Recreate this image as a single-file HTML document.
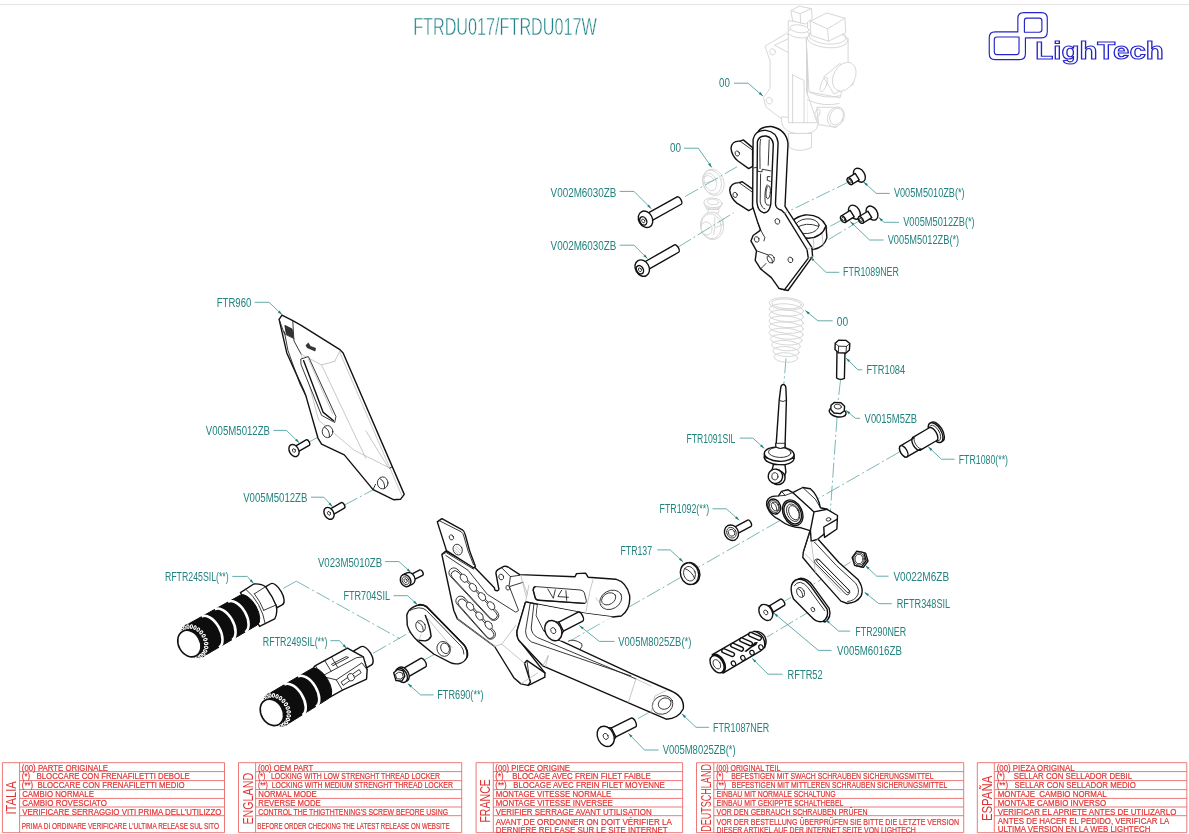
<!DOCTYPE html>
<html><head><meta charset="utf-8">
<style>
html,body{margin:0;padding:0;background:#fff;}
body{width:1189px;height:834px;overflow:hidden;font-family:"Liberation Sans",sans-serif;}
svg{display:block;position:absolute;left:0;top:0;will-change:transform;}
svg *{vector-effect:non-scaling-stroke;}
.k{fill:none;stroke:#222;stroke-width:.9;stroke-linejoin:round;stroke-linecap:round;}
.kw{fill:#fff;stroke:#222;stroke-width:.9;stroke-linejoin:round;stroke-linecap:round;}
.kb{fill:none;stroke:#111;stroke-width:1.4;stroke-linejoin:round;stroke-linecap:round;}
.kbw{fill:#fff;stroke:#111;stroke-width:1.4;stroke-linejoin:round;stroke-linecap:round;}
.t{fill:none;stroke:#b0b0b0;stroke-width:.7;stroke-linejoin:round;stroke-linecap:round;}
.g{fill:none;stroke:#d2d2d2;stroke-width:.9;stroke-linejoin:round;stroke-linecap:round;}
.gw{fill:#fff;stroke:#d2d2d2;stroke-width:.9;stroke-linejoin:round;stroke-linecap:round;}
.l{fill:none;stroke:#3f9696;stroke-width:.8;stroke-linejoin:miter;stroke-linecap:butt;}
.c{fill:none;stroke:#5aa5a5;stroke-width:.8;stroke-dasharray:15 3 2 3;}
.a{fill:#1f7f7f;stroke:none;}
.lab{font-family:"Liberation Sans",sans-serif;fill:#22837f;font-size:13.7px;}
.r{fill:none;stroke:#ec6a6a;stroke-width:.9;}
.rt{font-family:"Liberation Sans",sans-serif;fill:#e03434;font-size:9.9px;stroke:#e03434;stroke-width:.22;}
.rv{font-family:"Liberation Sans",sans-serif;fill:#e03434;font-size:14.4px;}
.b{fill:none;stroke:#2424cc;stroke-width:1.15;stroke-linejoin:round;}
</style></head><body>
<svg width="1189" height="834" viewBox="0 0 1189 834">
<rect x="0" y="0" width="1189" height="834" fill="#fff"/>
<line x1="0" y1="4.5" x2="1189" y2="4.5" stroke="#e4e4e4" stroke-width="1"/>
<!-- title -->
<text x="413.2" y="34.9" font-family="Liberation Sans, sans-serif" font-size="24.2" textLength="183.6" lengthAdjust="spacingAndGlyphs" fill="#1f848a" stroke="#fff" stroke-width=".5">FTRDU017/FTRDU017W</text>
<!-- logo -->
<g transform="translate(980,5) scale(0.16821)">
<path class="b" d="M225,160 L90,160 Q55,160 55,195 L55,290 Q55,325 90,325 L235,325 Q270,325 270,290 L270,195 L365,195 Q400,195 400,160 L400,80 Q400,45 365,45 L260,45 Q225,45 225,80 Z"/>
<path class="b" d="M100,190 L232,190 L232,280 Q232,295 217,295 L100,295 Q85,295 85,280 L85,205 Q85,190 100,190 Z"/>
<path class="b" d="M278,78 L352,78 Q368,78 368,94 L368,146 Q368,162 352,162 L264,162 L264,92 Q264,78 278,78 Z"/>
</g>
<text x="1035.3" y="58.9" font-family="Liberation Sans, sans-serif" font-weight="bold" font-size="24" textLength="128.5" lengthAdjust="spacingAndGlyphs" fill="#fff" stroke="#2424cc" stroke-width="1.1">LighTech</text>
<!-- master -->
<path class="gw" d="M 765.3,46.0 L 786.4,33.5 L 791.2,37.4 L 791.2,122.7 L 781.6,118.8 L 766.3,107.3 L 763.4,97.8 L 770.1,88.2 L 770.1,61.3 Z"/>
<ellipse class="g" cx="772.6" cy="51.8" rx="2.68" ry="3.26" transform="rotate(-20 772.6 51.8)"/>
<ellipse class="g" cx="769.2" cy="100.6" rx="2.88" ry="3.45" transform="rotate(-20 769.2 100.6)"/>
<path class="g" d="M 774.9,45.0 L 791.2,37.4 L 789.3,52.7 Z"/>
<path class="gw" d="M 781.6,122.7 Q 782.6,132.3 799.8,134.2 Q 817.1,134.2 818.0,124.6 L 818.0,118.8 L 781.6,116.9 Z"/>
<path class="gw" d="M 788.3,133.8 L 789.3,147.6 Q 799.8,153.3 811.3,147.6 L 811.7,133.8 Z"/>
<path class="gw" d="M 817.1,107.3 L 834.3,107.3 L 836.3,127.5 L 819.0,124.6 Z"/>
<ellipse class="gw" cx="835.9" cy="116.9" rx="8.05" ry="10.35" transform="rotate(25 835.9 116.9)"/>
<ellipse class="g" cx="836.6" cy="116.5" rx="6.52" ry="8.63" transform="rotate(25 836.6 116.5)"/>
<ellipse class="g" cx="817.5" cy="113.1" rx="2.30" ry="4.22" transform="rotate(20 817.5 113.1)"/>
<path class="gw" d="M 788.3,21.1 L 788.3,122.7 L 807.5,122.7 L 807.5,23.0 Z"/>
<path class="g" d="M 792.6,74.8 L 804.1,80.5 L 804.1,122.7 M 792.6,74.8 L 792.6,122.7"/>
<ellipse class="gw" cx="798.9" cy="33.5" rx="11.12" ry="4.22" transform="rotate(8 798.9 33.5)"/>
<ellipse class="gw" cx="799.5" cy="28.8" rx="9.58" ry="3.83" transform="rotate(8 799.5 28.8)"/>
<path class="gw" d="M 791.2,10.5 L 798.9,6.1 L 811.3,8.6 L 812.3,18.2 L 805.6,24.0 L 793.1,21.1 Z"/>
<path class="g" d="M 791.2,10.5 L 800.2,13.8 L 811.3,8.6 M 800.2,13.8 L 800.8,23.4"/>
<path class="gw" d="M 806.5,38.3 L 806.5,92.0 L 809.4,99.7 L 817.1,122.7 L 807.5,122.7 M 806.5,38.3 L 848.1,38.3 L 848.1,63.3 L 840.1,97.8 L 809.4,92.0 Z"/>
<path class="g" d="M 809.4,92.0 Q 824.8,99.7 840.1,95.8 M 807.5,99.7 Q 822.8,107.3 839.1,103.5"/>
<ellipse class="gw" cx="827.6" cy="39.3" rx="20.32" ry="8.43" transform="rotate(5 827.6 39.3)"/>
<ellipse class="g" cx="827.6" cy="36.4" rx="18.78" ry="7.67" transform="rotate(5 827.6 36.4)"/>
<path class="gw" d="M 810.4,21.1 L 826.7,13.0 L 844.9,18.2 L 845.8,32.6 L 828.6,41.2 L 811.3,35.5 Z"/>
<path class="g" d="M 810.4,21.1 L 827.6,28.8 L 844.9,18.2 M 827.6,28.8 L 828.6,41.2"/>
<path class="gw" d="M 823.8,76.7 L 840.1,63.3 L 853.5,84.3 L 834.3,93.9 Z"/>
<ellipse class="gw" cx="844.3" cy="76.7" rx="10.73" ry="15.33" transform="rotate(28 844.3 76.7)"/>
<ellipse class="g" cx="823.8" cy="84.3" rx="2.68" ry="7.67" transform="rotate(20 823.8 84.3)"/>
<ellipse class="gw" cx="713.5" cy="182.3" rx="10.47" ry="13.44" transform="rotate(-18 713.5 182.3)"/>
<ellipse class="g" cx="712.1" cy="182.1" rx="9.11" ry="12.30" transform="rotate(-18 712.1 182.1)"/>
<ellipse class="gw" cx="710.3" cy="181.9" rx="5.92" ry="9.11" transform="rotate(-18 710.3 181.9)"/>
<path class="g" d="M 704.9,176.6 Q 709.5,173.2 713.5,179.5 M 703.2,183.5 L 713.5,180.6"/>
<path class="gw" d="M 704.1,202.8 Q 703.8,208.5 712.9,209.7 Q 721.7,209.4 722.0,203.4 Z"/>
<ellipse class="gw" cx="713.0" cy="202.8" rx="9.11" ry="4.78" transform="rotate(5 713.0 202.8)"/>
<ellipse class="g" cx="713.0" cy="201.9" rx="5.69" ry="2.85" transform="rotate(5 713.0 201.9)"/>
<path class="g" d="M 706.1,206.8 L 706.4,209.1 M 708.3,207.6 L 708.6,209.9 M 710.6,208.1 L 710.7,210.3 M 712.9,208.3 L 713.0,210.6 M 715.2,208.1 L 715.3,210.3 M 717.4,207.6 L 717.6,209.7 M 719.7,206.5 L 719.8,208.5"/>
<path class="gw" d="M 707.8,209.7 L 708.3,213.1 L 718.6,213.1 L 718.9,209.7 Z"/>
<ellipse class="gw" cx="712.1" cy="225.8" rx="11.61" ry="13.89" transform="rotate(-10 712.1 225.8)"/>
<ellipse class="g" cx="711.2" cy="226.2" rx="10.02" ry="12.52" transform="rotate(-10 711.2 226.2)"/>
<ellipse class="gw" cx="706.6" cy="228.4" rx="5.47" ry="6.60" transform="rotate(-15 706.6 228.4)"/>
<path class="g" d="M 714.8,217.1 L 714.8,227.9 L 723.1,224.5 L 723.1,218.8 M 714.8,227.9 L 713.5,234.7"/>
<!-- center -->
<path class="c" d="M685,196.6 L737,166.8 M752,156.7 L771.4,145.9"/>
<path class="c" d="M678.2,247.1 L733.6,212.8"/>
<path class="c" d="M850.5,181.1 L789.8,210.7"/>
<path class="c" d="M843.5,219 L820,232 M861.1,219.8 L824.4,242.1"/>
<path class="c" d="M786,358.4 L783.7,385.7"/>
<path class="c" d="M840.5,380 L838,402 M837.1,416.8 L829.9,517.5"/>
<path class="c" d="M899.4,452 L570.5,640.6"/>
<path class="c" d="M850.6,562.2 L785.2,600.8"/>
<path class="c" d="M812.9,609.5 L767,637"/>
<path class="c" d="M283.2,588.4 L296.4,581.2" stroke-dasharray="none"/>
<path class="c" d="M296.4,581.2 L400,638.8"/>
<path class="c" d="M373.1,653.3 L416.3,628.5"/>
<path class="c" d="M422.8,660.8 L443.7,648.9"/>
<path class="c" d="M309.4,441.9 L322.4,434.7"/>
<path class="c" d="M344,505.3 L372.8,490"/>
<path class="c" d="M651,711.2 L633.4,721.2"/>
<!-- bracket -->
<path class="kbw" d="M 790.8,227.9 Q 789.8,218.2 804.9,215.0 Q 820.0,213.9 826.0,225.8 L 826.9,237.6 Q 824.3,247.3 813.5,249.5 Q 800.5,249.5 794.1,240.9 Z"/>
<path class="kb" d="M 790.8,227.9 Q 794.1,237.6 808.1,238.3 Q 822.1,237.6 826.0,225.8"/>
<ellipse class="kw" cx="807.0" cy="226.2" rx="12.09" ry="7.34" transform="rotate(-5 807.0 226.2)"/>
<path class="k" d="M 796.2,227.9 Q 805.9,221.4 818.2,226.2"/>
<path class="t" d="M 813.5,238.3 L 813.9,249.5 M 822.1,234.4 L 823.2,246.3"/>
<path class="kbw" d="M 757.4,133.0 Q 760.6,126.0 771.4,126.5 Q 786.5,129.7 788.0,143.7 L 785.0,206.3 L 788.0,211.1 L 811.8,247.3 L 812.6,256.4 L 788.0,290.5 L 784.4,289.7 L 779.0,288.4 L 753.1,206.3 Z"/>
<path class="kbw" d="M 752.6,147.6 L 743.3,139.9 L 740.1,141.2 Q 731.9,140.5 731.0,148.1 Q 731.5,155.6 738.0,161.0 L 748.7,168.6 L 752.6,166.4 Z"/>
<path class="k" d="M 740.1,141.2 L 752.6,150.2"/>
<ellipse class="kw" cx="737.3" cy="153.5" rx="2.16" ry="2.59" transform="rotate(-20 737.3 153.5)"/>
<path class="kbw" d="M 752.6,189.1 L 742.3,181.7 L 739.0,182.6 Q 730.6,182.6 729.7,190.1 Q 730.4,197.7 736.9,203.1 L 748.7,210.7 L 752.6,208.5 Z"/>
<path class="k" d="M 739.0,182.6 L 752.6,192.3"/>
<ellipse class="kw" cx="735.1" cy="194.9" rx="2.16" ry="2.59" transform="rotate(-20 735.1 194.9)"/>
<path class="kbw" d="M 752.6,206.3 L 753.1,139.4 Q 755.2,129.7 766.0,130.4 Q 776.8,131.9 778.1,142.7 L 775.5,203.1 Q 775.1,208.5 781.6,210.2 L 784.6,213.2 L 807.0,249.5 L 808.3,258.1 L 784.6,289.7 L 779.0,288.4 L 771.4,277.6 L 760.6,268.9 L 755.2,260.3 L 756.5,250.8 L 750.9,240.9 L 753.1,235.5 L 760.6,230.1 L 757.4,221.4 Z"/>
<path class="kbw" d="M 756.9,202.0 L 757.4,141.6 Q 759.1,135.5 766.0,136.0 Q 772.5,137.3 773.3,144.2 L 770.8,204.2 Q 769.2,213.2 763.9,212.8 Q 757.8,211.7 756.9,202.0 Z"/>
<path class="k" d="M 760.6,139.4 Q 759.5,141.6 760.0,163.2 L 760.0,168.6 M 769.2,139.9 L 768.2,165.3 M 754.1,167.9 L 757.4,167.1 L 757.8,171.4 L 762.1,171.8 L 762.1,169.2 L 770.8,170.9 M 769.9,176.6 L 767.3,176.6 L 767.3,180.4 L 770.3,181.3 M 760.6,174.0 L 760.2,202.0 Q 761.7,208.5 764.9,208.9 M 767.1,184.8 Q 764.3,189.1 765.1,202.0 Q 766.4,206.3 769.2,205.3"/>
<ellipse class="k" cx="768.2" cy="192.3" rx="2.16" ry="6.48" transform="rotate(5 768.2 192.3)"/>
<path class="k" d="M 760.6,230.1 L 764.9,237.6 L 763.9,240.9 M 756.5,250.8 L 768.2,254.9 M 760.6,268.9 L 766.0,263.5"/>
<ellipse class="kw" cx="777.4" cy="221.4" rx="2.37" ry="2.81" transform="rotate(-20 777.4 221.4)"/>
<ellipse class="kw" cx="756.7" cy="239.4" rx="2.37" ry="2.81" transform="rotate(-20 756.7 239.4)"/>
<ellipse class="kw" cx="770.8" cy="258.8" rx="3.45" ry="4.32" transform="rotate(-20 770.8 258.8)"/>
<path class="k" d="M 768.2,256.0 Q 772.9,258.1 772.5,262.9"/>
<ellipse class="kw" cx="790.4" cy="259.9" rx="2.37" ry="2.81" transform="rotate(-20 790.4 259.9)"/>
<path class="t" d="M 784.6,213.2 L 788.0,211.1 M 807.0,249.5 L 811.8,247.3 M 808.3,258.1 L 812.6,256.4"/>
<!-- spring -->
<ellipse class="g" cx="786.4" cy="303.9" rx="17.25" ry="6.23" transform="rotate(4 786.4 303.9)"/>
<ellipse class="g" cx="786.4" cy="309.9" rx="17.25" ry="6.07" transform="rotate(4 786.4 309.9)"/>
<ellipse class="g" cx="786.3" cy="315.8" rx="17.25" ry="5.91" transform="rotate(4 786.3 315.8)"/>
<ellipse class="g" cx="786.2" cy="321.8" rx="17.25" ry="5.75" transform="rotate(4 786.2 321.8)"/>
<ellipse class="g" cx="786.2" cy="327.7" rx="17.25" ry="5.59" transform="rotate(4 786.2 327.7)"/>
<ellipse class="g" cx="786.1" cy="333.7" rx="17.18" ry="5.43" transform="rotate(4 786.1 333.7)"/>
<ellipse class="g" cx="786.1" cy="339.7" rx="15.85" ry="5.27" transform="rotate(4 786.1 339.7)"/>
<ellipse class="g" cx="786.0" cy="345.6" rx="14.52" ry="5.11" transform="rotate(4 786.0 345.6)"/>
<ellipse class="g" cx="786.0" cy="351.6" rx="13.19" ry="4.95" transform="rotate(4 786.0 351.6)"/>
<ellipse class="g" cx="785.9" cy="357.5" rx="11.86" ry="4.79" transform="rotate(4 785.9 357.5)"/>
<ellipse class="g" cx="786.4" cy="303.9" rx="14.85" ry="4.79" transform="rotate(4 786.4 303.9)"/>
<path class="kbw" d="M 780.7,388.2 Q 780.7,384.9 783.3,384.4 Q 785.9,384.9 785.9,388.2 L 786.4,400.2 L 785.0,448.1 L 775.9,448.1 L 779.2,400.2 Z"/>
<path class="k" d="M 779.7,400.7 Q 783.1,402.6 786.4,400.4"/>
<ellipse class="kbw" cx="779.2" cy="457.7" rx="14.85" ry="7.19" transform="rotate(3 779.2 457.7)"/>
<path class="kbw" d="M 764.4,453.8 L 764.4,457.7 L 794.1,458.4 L 794.1,454.8 Z"/>
<ellipse class="kbw" cx="779.2" cy="454.1" rx="14.85" ry="7.19" transform="rotate(3 779.2 454.1)"/>
<ellipse class="k" cx="779.7" cy="452.4" rx="11.26" ry="5.03" transform="rotate(3 779.7 452.4)"/>
<path class="kw" d="M 775.9,446.9 Q 780.2,450.0 785.0,447.1 L 785.0,443.3 L 775.9,443.3 Z"/>
<path class="k" d="M 775.9,443.3 L 775.9,447.1 Q 780.2,450.0 785.0,447.1 L 785.0,443.3"/>
<path class="kbw" d="M 773.5,464.4 L 772.0,470.1 L 783.5,479.2 L 785.9,472.0 L 785.0,464.9 Z"/>
<ellipse class="kbw" cx="777.3" cy="477.3" rx="7.90" ry="7.19" transform="rotate(20 777.3 477.3)"/>
<ellipse class="kbw" cx="775.4" cy="476.3" rx="7.19" ry="7.19" transform="rotate(10 775.4 476.3)"/>
<ellipse class="kw" cx="774.9" cy="476.3" rx="3.11" ry="3.59" transform="rotate(10 774.9 476.3)"/>
<!-- heel -->
<g transform="translate(270,305) scale(0.23975)">
<path class="kbw" d="M38,60 L50,42 L95,65 L130,85 L290,185 L305,200 L560,790 L545,810 L515,812 L430,770 L310,625 L215,580 L200,555 L150,380 L140,355 L70,200 Z"/>
<path class="k" d="M95,68 L100,150 L130,205 M60,112 L75,190 L125,330 L150,380"/><path class="t" d="M130,205 L215,250 L270,235"/>
<path class="t" d="M290,195 L500,680 L550,795 M215,250 L400,640 M130,205 L200,470 L205,482 L350,605 L500,680 M400,525 L495,680 M270,235 L290,195"/>
<path class="k" d="M500,680 L508,676 M430,770 L440,748"/>
<path class="kw" d="M130,225 L160,215 L275,465 L270,490 L215,460 L130,250 Z"/>
<path class="kb" d="M140,232 L222,448 L264,482"/>
<path class="t" d="M160,225 L262,455"/>
<ellipse class="kw" cx="240" cy="528" rx="22" ry="25"/>
<path class="k" d="M228,510 Q250,520 248,550"/>
<ellipse class="kw" cx="470" cy="742" rx="22" ry="25"/>
<path class="k" d="M458,724 Q480,734 478,764"/>
<path class="k" d="M38,60 L60,120 L100,140"/>
<path d="M62,85 L92,100 L96,135 L68,120 Z" fill="#333" stroke="#111" stroke-width=".8"/>
<path d="M150,168 L160,158 L168,172 L190,180 L188,192 L155,178 Z" fill="#333" stroke="#222" stroke-width=".6"/>
<!-- screws -->
<g transform="translate(100,607) rotate(-30)">
<path class="kbw" d="M0,-13 L66,-13 A7,13 0 0 1 66,13 L0,13 Z"/>
<ellipse class="kbw" cx="0" cy="0" rx="19" ry="27"/>
<ellipse class="k" cx="0" cy="0" rx="6" ry="8"/>
</g>
</g>
<g transform="translate(200,285) scale(0.28794)">
<g transform="translate(448,793) rotate(-30)">
<path class="kbw" d="M0,-11 L55,-11 A6,11 0 0 1 55,11 L0,11 Z"/>
<ellipse class="kbw" cx="0" cy="0" rx="16" ry="22"/>
<ellipse class="k" cx="0" cy="0" rx="5" ry="7"/>
</g>
</g>
<!-- pegs -->
<g transform="translate(150,550) scale(0.23992)">
<!-- peg 1 -->
<g transform="translate(164,390) rotate(-29.5)">
<path class="kbw" d="M392,-50 L418,-50 A22,50 0 0 1 418,50 L392,50 Z"/>
<path class="kbw" d="M290,-80 L356,-84 Q385,-70 393,-50 L396,0 L393,40 Q385,70 360,86 L290,82 Z"/>
<path class="k" d="M316,-82 Q346,0 316,84 M338,-47 L393,-50 M338,32 L393,38 M338,-47 Q344,-8 338,32"/>
<path d="M40,-73 L284,-71 A34,71 0 0 1 284,72 L40,75 Z" fill="#0d0d0d" stroke="#0d0d0d" stroke-width="1"/>
<path d="M100,-73 A40,73 0 0 1 100,75 M163,-72 A40,72 0 0 1 163,74 M226,-72 A40,72 0 0 1 226,73" fill="none" stroke="#fff" stroke-width="2.6"/>
<ellipse cx="24" cy="1" rx="54" ry="77" fill="#0d0d0d"/>
<g fill="none" stroke="#fff" stroke-width="1.1"><ellipse cx="-9.9" cy="-59.0" rx="7.5" ry="4.6" transform="rotate(-124 -9.9 -59.0)"/><ellipse cx="2.9" cy="-65.2" rx="7.5" ry="4.6" transform="rotate(-107 2.9 -65.2)"/><ellipse cx="16.4" cy="-67.0" rx="7.5" ry="4.6" transform="rotate(-88 16.4 -67.0)"/><ellipse cx="29.8" cy="-64.3" rx="7.5" ry="4.6" transform="rotate(-69 29.8 -64.3)"/><ellipse cx="42.3" cy="-57.3" rx="7.5" ry="4.6" transform="rotate(-52 42.3 -57.3)"/><ellipse cx="53.0" cy="-46.4" rx="7.5" ry="4.6" transform="rotate(-37 53.0 -46.4)"/><ellipse cx="61.1" cy="-32.5" rx="7.5" ry="4.6" transform="rotate(-24 61.1 -32.5)"/><ellipse cx="66.3" cy="-16.3" rx="7.5" ry="4.6" transform="rotate(-12 66.3 -16.3)"/><ellipse cx="68.0" cy="1.0" rx="7.5" ry="4.6" transform="rotate(0 68.0 1.0)"/><ellipse cx="66.3" cy="18.3" rx="7.5" ry="4.6" transform="rotate(12 66.3 18.3)"/><ellipse cx="61.1" cy="34.5" rx="7.5" ry="4.6" transform="rotate(24 61.1 34.5)"/><ellipse cx="53.0" cy="48.4" rx="7.5" ry="4.6" transform="rotate(37 53.0 48.4)"/><ellipse cx="42.3" cy="59.3" rx="7.5" ry="4.6" transform="rotate(52 42.3 59.3)"/><ellipse cx="29.8" cy="66.3" rx="7.5" ry="4.6" transform="rotate(69 29.8 66.3)"/><ellipse cx="16.4" cy="69.0" rx="7.5" ry="4.6" transform="rotate(88 16.4 69.0)"/><ellipse cx="2.9" cy="67.2" rx="7.5" ry="4.6" transform="rotate(107 2.9 67.2)"/><ellipse cx="-9.9" cy="61.0" rx="7.5" ry="4.6" transform="rotate(124 -9.9 61.0)"/></g>
<ellipse cx="0" cy="0" rx="45" ry="58" fill="#fff" stroke="#111" stroke-width="1.6"/>
</g>
<!-- peg 2 -->
<g transform="translate(508,677) rotate(-31)">
<path class="kbw" d="M425,-44 L458,-44 A22,44 0 0 1 458,44 L425,44 Z"/>
<path class="kbw" d="M238,-68 L256,-74 L408,-68 L446,-2 L432,52 L410,84 L300,72 L238,70 Z"/>
<path class="k" d="M256,-74 L256,-22 L420,-14 L446,-2 M256,-22 L242,-12 M300,72 L300,22 L256,-22 M300,22 L428,16 L432,52 M300,-70 L300,-20 M332,-68 L332,-20 M318,-44 L385,-40 L392,-32 L320,-36Z"/>
<path class="k" d="M314,40 L404,34 L404,50 L314,56Z"/>
<ellipse class="kw" cx="358" cy="44" rx="14" ry="16"/>
<path d="M40,-73 L236,-71 A34,71 0 0 1 236,72 L40,75 Z" fill="#0d0d0d" stroke="#0d0d0d" stroke-width="1"/>
<path d="M104,-73 A40,73 0 0 1 104,75 M170,-72 A40,72 0 0 1 170,74" fill="none" stroke="#fff" stroke-width="2.6"/>
<ellipse cx="24" cy="1" rx="54" ry="77" fill="#0d0d0d"/>
<g fill="none" stroke="#fff" stroke-width="1.1"><ellipse cx="-9.9" cy="-59.0" rx="7.5" ry="4.6" transform="rotate(-124 -9.9 -59.0)"/><ellipse cx="2.9" cy="-65.2" rx="7.5" ry="4.6" transform="rotate(-107 2.9 -65.2)"/><ellipse cx="16.4" cy="-67.0" rx="7.5" ry="4.6" transform="rotate(-88 16.4 -67.0)"/><ellipse cx="29.8" cy="-64.3" rx="7.5" ry="4.6" transform="rotate(-69 29.8 -64.3)"/><ellipse cx="42.3" cy="-57.3" rx="7.5" ry="4.6" transform="rotate(-52 42.3 -57.3)"/><ellipse cx="53.0" cy="-46.4" rx="7.5" ry="4.6" transform="rotate(-37 53.0 -46.4)"/><ellipse cx="61.1" cy="-32.5" rx="7.5" ry="4.6" transform="rotate(-24 61.1 -32.5)"/><ellipse cx="66.3" cy="-16.3" rx="7.5" ry="4.6" transform="rotate(-12 66.3 -16.3)"/><ellipse cx="68.0" cy="1.0" rx="7.5" ry="4.6" transform="rotate(0 68.0 1.0)"/><ellipse cx="66.3" cy="18.3" rx="7.5" ry="4.6" transform="rotate(12 66.3 18.3)"/><ellipse cx="61.1" cy="34.5" rx="7.5" ry="4.6" transform="rotate(24 61.1 34.5)"/><ellipse cx="53.0" cy="48.4" rx="7.5" ry="4.6" transform="rotate(37 53.0 48.4)"/><ellipse cx="42.3" cy="59.3" rx="7.5" ry="4.6" transform="rotate(52 42.3 59.3)"/><ellipse cx="29.8" cy="66.3" rx="7.5" ry="4.6" transform="rotate(69 29.8 66.3)"/><ellipse cx="16.4" cy="69.0" rx="7.5" ry="4.6" transform="rotate(88 16.4 69.0)"/><ellipse cx="2.9" cy="67.2" rx="7.5" ry="4.6" transform="rotate(107 2.9 67.2)"/><ellipse cx="-9.9" cy="61.0" rx="7.5" ry="4.6" transform="rotate(124 -9.9 61.0)"/></g>
<ellipse cx="0" cy="0" rx="45" ry="58" fill="#fff" stroke="#111" stroke-width="1.6"/>
</g>
</g>
<!-- link704 -->
<!-- RFTR52 toe peg -->
<g transform="translate(700,620) scale(0.083956)">
<g transform="translate(210,522) rotate(-30.3)">
<path class="kbw" d="M0,-126 L520,-124 Q640,-110 650,0 Q640,112 520,126 L0,128 Z"/>
<path class="kb" d="M570,-118 Q625,-60 625,0 Q625,60 580,116"/>
<ellipse cx="10" cy="0" rx="78" ry="127" fill="#111"/>
<ellipse class="kbw" cx="-8" cy="0" rx="72" ry="112"/>
<ellipse class="k" cx="-10" cy="0" rx="40" ry="60"/>
<g fill="#fff" stroke="#111" stroke-width="1.4">
<rect x="-24" y="-80" width="48" height="160" rx="24" transform="translate(175,-52) rotate(-36)"/>
<rect x="-24" y="-80" width="48" height="160" rx="24" transform="translate(300,-54) rotate(-36)"/>
<rect x="-24" y="-80" width="48" height="160" rx="24" transform="translate(425,-56) rotate(-36)"/>
<rect x="-24" y="-80" width="48" height="160" rx="24" transform="translate(550,-58) rotate(-36)"/>
</g>
<g fill="#fff" stroke="#111" stroke-width="1.2">
<ellipse cx="165" cy="92" rx="25" ry="30"/><ellipse cx="295" cy="92" rx="25" ry="30"/><ellipse cx="420" cy="92" rx="25" ry="30"/><ellipse cx="545" cy="90" rx="25" ry="30"/>
</g>
<path d="M350,30 L450,20 L510,0 L545,18 L510,40 L450,38 L365,50 Z" fill="#111"/>
</g>
</g>
<!-- plate -->
<path class="kbw" d="M 441.9,554.2 L 445.8,551.1 L 474.8,567.4 L 494.6,588.1 Q 494.0,590.7 497.3,590.7 Q 499.5,590.4 498.6,587.8 L 495.9,573.0 Q 495.9,570.9 497.9,569.6 L 503.8,566.4 Q 505.8,565.9 508.1,567.0 L 519.7,574.6 L 575.0,576.7 L 576.5,573.6 L 585.6,573.1 L 588.1,577.2 L 615.8,579.2 Q 626.4,582.2 629.6,595.3 Q 630.9,609.2 621.3,616.0 L 612.8,617.0 L 585.6,613.4 L 525.6,601.9 L 517.1,630.6 Q 516.0,638.6 521.6,643.2 L 544.9,672.9 L 544.9,677.2 L 530.5,684.4 L 528.1,685.4 L 520.9,683.9 L 513.8,677.7 L 494.6,646.5 L 457.4,618.9 L 453.8,610.5 L 442.3,556.6 Z"/>
<path class="kbw" d="M 525.6,601.9 L 517.1,630.6 Q 516.0,638.6 521.6,643.2 L 542.7,665.8 L 651.1,712.7 L 666.2,719.2 Q 678.3,718.7 683.3,708.7 Q 684.8,696.6 670.2,690.5 L 630.9,673.4 L 560.4,640.6 L 544.0,630.6 L 536.4,615.5 L 537.7,604.4 Z"/>
<path fill="#fff" stroke="none" d="M 537.7,604.4 L 585.6,613.4 L 612.8,617.0 L 585.6,630.6 L 570.5,640.6 L 560.4,640.6 L 544.0,630.6 L 536.4,615.5 Z"/>
<path class="k" d="M 568.4,641.1 Q 573.0,638.1 581.8,643.7 Q 583.0,646.2 580.5,648.7"/>
<path class="k" d="M 530.2,603.4 L 525.6,630.6 Q 525.6,638.1 531.4,641.9 L 630.9,675.9 M 533.9,604.1 L 531.2,628.0 Q 531.7,634.3 537.7,637.6 L 635.9,678.9"/>
<path class="t" d="M 545.3,667.1 L 548.3,655.8 M 628.4,702.4 L 635.9,678.9 L 651.1,686.0 M 542.7,665.8 L 548.3,655.8"/>
<path class="kb" d="M 524.5,663.3 L 526.9,660.4 L 544.9,672.9 M 524.5,663.3 L 530.5,682.0 L 528.1,685.4"/>
<path class="k" d="M 526.9,660.4 L 529.6,680.1"/>
<path class="t" d="M 494.6,646.5 L 501.8,644.1 L 524.5,663.3 M 457.4,618.9 L 494.6,646.5 M 501.8,644.1 L 516.1,624.9 M 520.9,683.7 L 537.7,672.9"/>
<path class="kbw" d="M 437.3,521.9 L 441.9,518.6 L 462.3,529.8 Q 464.6,531.4 465.3,534.8 Q 468.9,550.9 475.4,566.2 L 473.8,568.0 L 446.5,550.6 Z"/>
<path class="k" d="M 439.0,520.5 L 461.4,531.9 Q 463.2,533.2 463.8,536.1 Q 467.5,551.5 473.5,564.7"/>
<path class="k" d="M 442.1,554.6 L 446.1,552.5 L 473.5,569.1 M 445.8,555.5 L 468.2,570.4 L 487.4,594.4 L 515.7,612.2 L 518.6,610.5 L 509.8,587.8"/>
<ellipse class="kw" cx="451.4" cy="537.4" rx="2.11" ry="2.64" transform="rotate(-20 451.4 537.4)"/>
<ellipse class="kw" cx="457.7" cy="549.6" rx="4.48" ry="5.54" transform="rotate(-25 457.7 549.6)"/>
<path class="t" d="M 455.1,547.6 L 459.7,552.9 M 456.1,545.9 L 461.4,551.1 M 454.4,550.2 L 458.4,554.2"/>
<path class="k" d="M 501.9,568.0 L 510.4,576.6 L 519.7,575.3 M 510.4,576.6 L 509.1,585.8"/>
<ellipse class="kw" cx="501.2" cy="577.0" rx="2.37" ry="2.90" transform="rotate(-20 501.2 577.0)"/>
<ellipse class="kw" cx="507.8" cy="587.8" rx="1.85" ry="2.37" transform="rotate(-20 507.8 587.8)"/>
<path class="k" d="M 509.9,586.5 L 523.0,582.3"/>
<path class="t" d="M 523.0,582.3 L 527.6,594.4 M 521.0,575.9 L 526.3,597.0"/>
<rect class="kw" x="-4.97" y="-4.97" width="68.36" height="9.93" rx="4.97" transform="translate(453.9,572.8) rotate(46.9)"/>
<rect class="k" x="-3.89" y="-3.89" width="63.84" height="7.77" rx="3.89" transform="translate(455.1,574.6) rotate(47.0)"/>
<ellipse class="kw" cx="463.9" cy="578.2" rx="3.13" ry="4.53" transform="rotate(-38 463.9 578.2)"/>
<ellipse class="kw" cx="473.0" cy="587.4" rx="3.13" ry="4.53" transform="rotate(-38 473.0 587.4)"/>
<ellipse class="kw" cx="482.0" cy="596.6" rx="3.13" ry="4.53" transform="rotate(-38 482.0 596.6)"/>
<ellipse class="kw" cx="491.1" cy="605.7" rx="3.13" ry="4.53" transform="rotate(-38 491.1 605.7)"/>
<rect class="kw" x="-4.86" y="-4.86" width="54.60" height="9.72" rx="4.86" transform="translate(460.7,600.9) rotate(48.2)"/>
<rect class="k" x="-3.78" y="-3.78" width="50.23" height="7.56" rx="3.78" transform="translate(461.8,602.7) rotate(48.5)"/>
<ellipse class="kw" cx="470.1" cy="606.3" rx="3.13" ry="4.53" transform="rotate(-38 470.1 606.3)"/>
<ellipse class="kw" cx="479.5" cy="616.0" rx="3.13" ry="4.53" transform="rotate(-38 479.5 616.0)"/>
<ellipse class="kw" cx="488.7" cy="625.2" rx="3.13" ry="4.53" transform="rotate(-38 488.7 625.2)"/>
<path class="kw" d="M 535.2,586.7 Q 533.2,587.2 533.2,590.3 L 535.2,597.8 Q 535.9,600.3 539.0,600.3 L 584.3,603.4 Q 586.8,603.4 586.3,600.3 L 584.3,592.8 Q 583.6,590.3 580.5,590.0 Z"/>
<path class="kb" d="M 535.2,586.7 Q 533.2,587.2 533.2,590.3 L 535.2,597.8 Q 535.9,600.3 539.0,600.3 L 584.3,603.4"/>
<path class="k" d="M 547.8,589.0 L 553.3,598.3 L 555.3,589.8 M 561.6,590.3 L 557.9,596.6 L 568.4,597.3 M 565.9,590.8 L 566.7,600.3"/>
<ellipse class="kw" cx="610.8" cy="599.8" rx="11.59" ry="9.07" transform="rotate(-30 610.8 599.8)"/>
<ellipse class="k" cx="608.7" cy="598.8" rx="7.56" ry="5.54" transform="rotate(-30 608.7 598.8)"/>
<path class="t" d="M 585.6,613.4 L 590.1,590.3 L 593.1,579.7 M 525.6,601.9 L 528.9,585.2 M 595.6,597.8 L 605.7,609.2"/>
<ellipse class="kw" cx="662.6" cy="704.9" rx="10.58" ry="9.07" transform="rotate(-25 662.6 704.9)"/>
<ellipse class="k" cx="664.7" cy="703.6" rx="6.55" ry="5.54" transform="rotate(-25 664.7 703.6)"/>
<path class="t" d="M 651.1,712.7 L 654.8,696.1 L 666.2,690.5"/>
<!-- lever -->
<path class="kbw" d="M 766.7,505.1 Q 765.9,498.4 772.6,496.4 L 778.5,495.9 L 781.5,491.4 L 787.7,489.7 L 792.7,492.6 L 802.8,487.5 L 810.4,488.7 Q 817.9,495.1 820.4,507.7 L 827.1,509.3 L 837.5,515.5 L 836.9,529.0 L 824.6,537.4 L 824.1,534.0 L 817.9,539.0 L 838.9,562.5 L 858.2,579.8 Q 864.4,589.1 861.0,596.1 Q 857.3,602.5 847.3,603.5 L 840.9,601.1 L 815.4,572.6 L 802.8,557.5 L 803.3,552.1 L 810.0,530.7 L 801.1,527.8 Q 788.5,527.0 780.1,520.2 Q 769.2,515.2 766.7,505.1 Z"/>
<path class="kb" d="M 792.7,492.6 L 814.0,511.9 L 810.4,530.3 L 811.2,541.2 L 817.1,539.5 M 814.0,511.9 L 827.1,509.3 M 824.1,534.0 L 823.8,527.0 L 836.9,519.4"/>
<path class="k" d="M 802.8,487.5 L 815.4,499.3 L 820.4,507.7 M 781.5,491.4 L 785.2,495.4 L 778.5,495.9 M 785.2,495.4 L 792.7,492.6 M 810.4,530.3 L 803.3,552.1"/>
<path class="t" d="M 811.2,541.2 L 815.4,572.6 M 817.9,539.0 L 813.7,542.9 M 805.3,553.8 L 840.6,592.4"/>
<path class="k" d="M 814.5,542.1 L 836.4,565.6 L 855.7,583.2 Q 860.0,589.9 857.7,594.9 Q 854.8,600.8 847.6,601.5"/>
<rect class="kw" x="-2.52" y="-2.52" width="48.12" height="5.04" rx="2.52" transform="translate(817.1,561.4) rotate(45.5)"/>
<rect class="k" x="-1.51" y="-1.51" width="45.51" height="3.02" rx="1.51" transform="translate(818.1,560.9) rotate(45.3)"/>
<ellipse class="kbw" cx="792.7" cy="512.7" rx="9.40" ry="13.43" transform="rotate(-25 792.7 512.7)"/>
<ellipse class="kb" cx="792.7" cy="512.7" rx="8.06" ry="11.75" transform="rotate(-25 792.7 512.7)"/>
<ellipse class="kw" cx="793.2" cy="512.7" rx="6.04" ry="9.23" transform="rotate(-25 793.2 512.7)"/>
<ellipse class="k" cx="793.9" cy="512.7" rx="4.70" ry="7.55" transform="rotate(-25 793.9 512.7)"/>
<ellipse class="kbw" cx="774.3" cy="506.5" rx="6.04" ry="7.72" transform="rotate(-25 774.3 506.5)"/>
<ellipse class="k" cx="774.4" cy="506.5" rx="4.70" ry="6.21" transform="rotate(-25 774.4 506.5)"/>
<ellipse class="kw" cx="775.1" cy="506.5" rx="3.36" ry="4.70" transform="rotate(-25 775.1 506.5)"/>
<path class="k" d="M 772.6,502.6 Q 776.8,504.3 776.8,510.2"/>
<ellipse class="kw" cx="828.5" cy="519.4" rx="2.35" ry="1.68" transform="rotate(-10 828.5 519.4)"/>
<path class="kbw" d="M 800.3,578.3 Q 807.8,578.3 812.7,585.7 L 829.2,608.4 Q 831.8,617.6 825.1,622.0 L 822.9,621.3 L 798.6,579.0 Z"/>
<path class="kbw" d="M 791.1,589.1 Q 791.1,580.7 798.6,579.0 Q 805.3,579.0 810.4,585.7 L 827.1,609.2 Q 829.2,617.6 822.9,621.3 Q 817.1,623.0 812.0,617.6 L 793.6,599.1 Q 791.1,594.1 791.1,589.1 Z"/>
<ellipse class="kw" cx="800.6" cy="592.4" rx="3.69" ry="5.20" transform="rotate(-25 800.6 592.4)"/>
<path class="k" d="M 798.3,588.7 Q 802.8,591.1 802.8,596.6"/>
<ellipse class="kw" cx="812.9" cy="609.5" rx="1.68" ry="2.35" transform="rotate(-25 812.9 609.5)"/>
<path class="k" d="M 794.4,585.7 Q 796.1,582.3 800.3,582.3 Q 804.5,583.2 807.8,587.4 L 824.6,610.5"/>
<!-- small -->
<g transform="translate(645.0,219.6) rotate(-29.1)"><path class="kbw" d="M2,-4.2 L39.1,-4.2 A2,4.2 0 0 1 39.1,4.2 L2,4.2 Z"/><ellipse class="kbw" cx="0.6" cy="0" rx="6.8" ry="8.6"/><ellipse class="kb" cx="-2.2" cy="0.3" rx="3.3" ry="4.4"/><ellipse class="k" cx="-2.2" cy="0.3" rx="1.4" ry="2"/></g>
<g transform="translate(641.7,268.4) rotate(-29.6)"><path class="kbw" d="M2,-4.2 L40.1,-4.2 A2,4.2 0 0 1 40.1,4.2 L2,4.2 Z"/><ellipse class="kbw" cx="0.6" cy="0" rx="6.8" ry="8.6"/><ellipse class="kb" cx="-2.2" cy="0.3" rx="3.3" ry="4.4"/><ellipse class="k" cx="-2.2" cy="0.3" rx="1.4" ry="2"/></g>
<g transform="translate(859.4,175.2) rotate(147.6)"><ellipse class="kbw" cx="0" cy="0" rx="5.20" ry="7.60"/><path class="kbw" d="M2.60,-3.80 L11.37,-3.80 L11.37,3.80 L2.60,3.80 Z"/><ellipse class="kbw" cx="11.37" cy="0" rx="2.09" ry="3.80"/><ellipse class="k" cx="11.37" cy="0" rx="1.14" ry="2.09"/></g>
<g transform="translate(854.4,212.2) rotate(148.0)"><ellipse class="kbw" cx="0" cy="0" rx="5.20" ry="7.60"/><path class="kbw" d="M2.60,-3.80 L13.21,-3.80 L13.21,3.80 L2.60,3.80 Z"/><ellipse class="kbw" cx="13.21" cy="0" rx="2.09" ry="3.80"/><ellipse class="k" cx="13.21" cy="0" rx="1.14" ry="2.09"/></g>
<g transform="translate(872.0,213.1) rotate(148.4)"><ellipse class="kbw" cx="0" cy="0" rx="5.20" ry="7.60"/><path class="kbw" d="M2.60,-3.80 L13.15,-3.80 L13.15,3.80 L2.60,3.80 Z"/><ellipse class="kbw" cx="13.15" cy="0" rx="2.09" ry="3.80"/><ellipse class="k" cx="13.15" cy="0" rx="1.14" ry="2.09"/></g>
<g transform="translate(405.6,580.6) rotate(-27)"><path class="kbw" d="M4,-3 L17.5,-3 A1.6,3 0 0 1 17.5,3 L4,3 Z"/><path class="kbw" d="M0,-6.3 L4.6,-6.3 A5,6.3 0 0 1 4.6,6.3 L0,6.3 Z"/><ellipse class="kbw" cx="0" cy="0" rx="5" ry="6.3"/><ellipse class="k" cx="0" cy="0" rx="3.2" ry="4.1"/><ellipse class="k" cx="0" cy="0" rx="1.5" ry="2"/></g>
<g transform="translate(553.3,630.6) rotate(-27.1)"><path class="kbw" d="M0,-5.00 L30.55,-5.00 A2.25,5.00 0 0 1 30.55,5.00 L0,5.00 Z"/><path class="kbw" d="M0,-10.60 L8.80,-5.00 L8.80,5.00 L0,10.60 Z"/><ellipse class="kbw" cx="0" cy="0" rx="8.00" ry="10.60"/><ellipse class="k" cx="0" cy="0" rx="2.40" ry="3.18"/></g>
<g transform="translate(605.7,736.4) rotate(-26.6)"><path class="kbw" d="M0,-5.00 L30.99,-5.00 A2.25,5.00 0 0 1 30.99,5.00 L0,5.00 Z"/><path class="kbw" d="M0,-10.60 L8.80,-5.00 L8.80,5.00 L0,10.60 Z"/><ellipse class="kbw" cx="0" cy="0" rx="8.00" ry="10.60"/><ellipse class="k" cx="0" cy="0" rx="2.40" ry="3.18"/></g>
<g transform="translate(765.8,612.4) rotate(-31.3)"><path class="kbw" d="M0,-3.70 L19.43,-3.70 A1.67,3.70 0 0 1 19.43,3.70 L0,3.70 Z"/><path class="kbw" d="M0,-8.60 L6.82,-3.70 L6.82,3.70 L0,8.60 Z"/><ellipse class="kbw" cx="0" cy="0" rx="6.20" ry="8.60"/><ellipse class="k" cx="0" cy="0" rx="1.86" ry="2.58"/></g>
<g transform="translate(731.5,532.7) rotate(-28.0)"><path class="kbw" d="M0,-3.60 L20.26,-3.60 A1.62,3.60 0 0 1 20.26,3.60 L0,3.60 Z"/><ellipse class="kbw" cx="0" cy="0" rx="6.80" ry="8.00"/><ellipse class="k" cx="0" cy="0" rx="3.06" ry="3.60"/></g>
<ellipse class="k" cx="731.5" cy="532.7" rx="4.6" ry="5.6" transform="rotate(-28 731.5 532.7)"/>
<g transform="translate(689.5,573.7) rotate(-18)"><ellipse class="kbw" cx="1.2" cy="0" rx="9" ry="11"/><ellipse class="kbw" cx="0" cy="0" rx="9" ry="11"/><ellipse class="kw" cx="0" cy="0" rx="5.8" ry="7.4"/><path class="k" d="M-3,-6.5 Q3,-2 3.5,6.5"/></g>
<g transform="translate(401.5,675.2) rotate(-30)"><path class="kbw" d="M0,-4.9 L25,-4.9 A2.4,4.9 0 0 1 25,4.9 L0,4.9 Z"/><ellipse class="kbw" cx="2" cy="0" rx="5.2" ry="7.8"/><ellipse class="kbw" cx="0" cy="0" rx="5.2" ry="7.8"/></g>
<path class="kbw" d="M 393.7,672.8 L 397.6,669.4 L 403.1,670.7 L 404.8,676.1 L 401.8,681.1 L 395.9,680.5 Z"/>
<path class="k" d="M 395.7,674.1 L 398.8,672.1 L 402.3,673.1 L 403.1,676.6 L 401.1,679.1 L 397.1,678.8 Z"/>
<path class="kbw" d="M 406.8,615.4 Q 407.7,610.3 412.7,607.3 Q 419.4,603.3 426.1,606.1 L 463.9,644.7 Q 468.1,649.8 467.6,655.6 Q 465.5,662.3 458.8,663.7 Q 453.8,664.4 450.4,662.7 L 433.7,654.0 L 417.7,640.9 Q 409.8,633.8 407.3,625.4 Z"/>
<path class="kb" d="M 418.6,604.6 Q 423.3,604.0 426.9,607.3 L 464.5,645.6 Q 467.9,650.6 466.9,657.3"/>
<path class="k" d="M 410.2,610.3 Q 412.7,608.7 418.6,607.8 Q 423.6,607.8 426.3,610.3 L 461.3,646.4 Q 463.9,649.8 463.9,654.0"/>
<ellipse class="kw" cx="420.6" cy="626.3" rx="4.6" ry="5.9" transform="rotate(-25 420.6 626.3)"/>
<path class="k" d="M 417.9,622.4 Q 422.8,623.8 423.3,630.5"/>
<ellipse class="kw" cx="443.7" cy="648.9" rx="6.6" ry="7.6" transform="rotate(-25 443.7 648.9)"/>
<ellipse class="k" cx="445.1" cy="648.3" rx="4.2" ry="5.4" transform="rotate(-25 445.1 648.3)"/>
<path class="kb" d="M 425.3,615.4 Q 430.0,626.3 431.1,636.3 Q 429.0,640.2 425.3,640.9 L 417.7,640.2"/>
<path class="t" d="M 427.3,617.9 L 452.1,647.6 M 418.6,640.5 L 421.1,634.7"/>
<path class="kbw" d="M868.0,561.0 L863.4,567.4 L856.4,565.9 L854.0,558.0 L858.6,551.6 L865.6,553.1Z"/>
<path class="kbw" d="M866.2,560.5 L861.6,566.9 L854.6,565.4 L852.2,557.5 L856.8,551.1 L863.8,552.6Z"/>
<ellipse class="kw" cx="859" cy="559" rx="4" ry="4.8"/><ellipse class="k" cx="859" cy="559" rx="5.4" ry="6.2"/>
<ellipse class="kbw" cx="837.6" cy="412.2" rx="8.6" ry="4.6" transform="rotate(12 837.6 412.2)"/>
<path class="kbw" d="M831,405.2 L834.5,402.4 L841,402.8 L844.6,406.2 L844.2,411 L840.5,413.6 L834,413 L830.8,409.6 Z"/>
<ellipse class="kw" cx="837.8" cy="406.6" rx="3.6" ry="2.4" transform="rotate(8 837.8 406.6)"/>
<path class="kbw" d="M837.0,351 L836.6,378 Q840.5,380.6 844.4,378.4 L845,351 Z"/>
<path class="kbw" d="M835.2,343.2 L838.6,340.2 L846.2,340.4 L849.8,343.6 L849.4,350 L846,353 L838.4,352.8 L835,349.6 Z"/>
<path class="k" d="M835.2,343.2 L838.6,346.2 L846.4,346.4 L849.8,343.6 M838.6,346.2 L838.4,352.8 M846.4,346.4 L846,353"/>
<g transform="translate(935.6,432.6) rotate(-30.5)"><ellipse class="kbw" cx="1.6" cy="0" rx="5.6" ry="11"/><ellipse class="kbw" cx="0" cy="0" rx="5.6" ry="11"/><ellipse class="k" cx="-0.6" cy="0" rx="4.2" ry="8.6"/><path class="kbw" d="M-3,-7.4 L-22,-7.4 L-22,-6.4 L-37,-6.4 A3.2,6.4 0 0 0 -37,6.4 L-22,6.4 L-22,7.4 L-3,7.4 A3.6,7.4 0 0 0 -3,-7.4Z"/><ellipse class="kbw" cx="-37" cy="0" rx="3.2" ry="6.4"/><path class="kb" d="M-22,-7.4 A3.6,7.4 0 0 0 -22,7.4"/><path class="k" d="M-19.5,-7.4 A3.6,7.4 0 0 0 -19.5,7.4"/></g>
<!-- labels -->
<text class="lab" x="719.0" y="87.3" textLength="10.9" lengthAdjust="spacingAndGlyphs">00</text>
<path class="l" d="M734.0,83.2 L748.0,83.2 L763.0,96.0"/>
<path class="a" d="M763.0,96.0 L758.7,94.0 L760.3,92.1Z"/>
<text class="lab" x="670.1" y="152.3" textLength="11.0" lengthAdjust="spacingAndGlyphs">00</text>
<path class="l" d="M684.0,148.2 L698.3,148.2 L711.8,167.4"/>
<path class="a" d="M711.8,167.4 L708.1,164.4 L710.2,162.9Z"/>
<text class="lab" x="550.6" y="196.9" textLength="65.8" lengthAdjust="spacingAndGlyphs">V002M6030ZB</text>
<path class="l" d="M619.7,191.4 L634.0,191.4 L651.3,208.7"/>
<path class="a" d="M651.3,208.7 L647.2,206.3 L648.9,204.6Z"/>
<text class="lab" x="550.6" y="249.7" textLength="65.8" lengthAdjust="spacingAndGlyphs">V002M6030ZB</text>
<path class="l" d="M619.7,245.2 L634.0,245.2 L647.5,258.6"/>
<path class="a" d="M647.5,258.6 L643.4,256.2 L645.1,254.5Z"/>
<text class="lab" x="893.9" y="197.3" textLength="70.7" lengthAdjust="spacingAndGlyphs">V005M5010ZB(*)</text>
<path class="l" d="M889.7,193.4 L876.3,193.4 L863.6,182.0"/>
<path class="a" d="M863.6,182.0 L867.9,184.1 L866.2,186.0Z"/>
<text class="lab" x="903.2" y="225.7" textLength="71.5" lengthAdjust="spacingAndGlyphs">V005M5012ZB(*)</text>
<path class="l" d="M899.0,222.3 L883.8,222.3 L878.8,217.3"/>
<path class="a" d="M878.8,217.3 L882.9,219.7 L881.2,221.4Z"/>
<text class="lab" x="887.7" y="243.9" textLength="71.5" lengthAdjust="spacingAndGlyphs">V005M5012ZB(*)</text>
<path class="l" d="M883.5,240.0 L869.5,240.0 L850.2,221.5"/>
<path class="a" d="M850.2,221.5 L854.4,223.8 L852.7,225.6Z"/>
<text class="lab" x="843.1" y="276.2" textLength="55.9" lengthAdjust="spacingAndGlyphs">FTR1089NER</text>
<path class="l" d="M839.3,272.3 L826.0,272.3 L810.0,257.0"/>
<path class="a" d="M810.0,257.0 L814.2,259.3 L812.5,261.1Z"/>
<text class="lab" x="836.8" y="326.2" textLength="11.4" lengthAdjust="spacingAndGlyphs">00</text>
<path class="l" d="M832.7,320.8 L817.9,320.8 L805.3,310.5"/>
<path class="a" d="M805.3,310.5 L809.7,312.4 L808.1,314.4Z"/>
<text class="lab" x="866.4" y="373.6" textLength="38.8" lengthAdjust="spacingAndGlyphs">FTR1084</text>
<path class="l" d="M862.3,369.8 L857.8,369.8 L845.9,357.9"/>
<path class="a" d="M845.9,357.9 L850.0,360.3 L848.3,362.0Z"/>
<text class="lab" x="864.6" y="423.0" textLength="52.4" lengthAdjust="spacingAndGlyphs">V0015M5ZB</text>
<path class="l" d="M860.0,418.3 L855.5,418.3 L845.9,410.3"/>
<path class="a" d="M845.9,410.3 L850.2,412.3 L848.6,414.2Z"/>
<text class="lab" x="686.4" y="442.8" textLength="49.0" lengthAdjust="spacingAndGlyphs">FTR1091SIL</text>
<path class="l" d="M739.7,438.1 L752.9,438.1 L764.3,448.4"/>
<path class="a" d="M764.3,448.4 L760.0,446.2 L761.7,444.4Z"/>
<text class="lab" x="958.7" y="464.0" textLength="49.3" lengthAdjust="spacingAndGlyphs">FTR1080(**)</text>
<path class="l" d="M954.6,459.2 L941.4,459.2 L928.2,446.8"/>
<path class="a" d="M928.2,446.8 L932.4,449.0 L930.7,450.9Z"/>
<text class="lab" x="893.4" y="580.7" textLength="55.7" lengthAdjust="spacingAndGlyphs">V0022M6ZB</text>
<path class="l" d="M888.6,576.2 L876.7,576.2 L865.4,565.4"/>
<path class="a" d="M865.4,565.4 L869.6,567.7 L867.9,569.5Z"/>
<text class="lab" x="659.6" y="513.4" textLength="49.5" lengthAdjust="spacingAndGlyphs">FTR1092(**)</text>
<path class="l" d="M712.5,508.8 L726.3,508.8 L739.3,520.3"/>
<path class="a" d="M739.3,520.3 L735.0,518.2 L736.7,516.3Z"/>
<text class="lab" x="620.5" y="555.1" textLength="31.6" lengthAdjust="spacingAndGlyphs">FTR137</text>
<path class="l" d="M657.3,549.9 L670.2,549.9 L683.2,562.0"/>
<path class="a" d="M683.2,562.0 L679.0,559.8 L680.7,558.0Z"/>
<text class="lab" x="896.7" y="608.3" textLength="53.5" lengthAdjust="spacingAndGlyphs">RFTR348SIL</text>
<path class="l" d="M891.8,603.7 L878.8,603.7 L864.5,592.2"/>
<path class="a" d="M864.5,592.2 L868.9,594.1 L867.3,596.1Z"/>
<text class="lab" x="855.3" y="636.0" textLength="50.9" lengthAdjust="spacingAndGlyphs">FTR290NER</text>
<path class="l" d="M850.1,631.1 L838.6,631.1 L825.6,619.6"/>
<path class="a" d="M825.6,619.6 L829.9,621.7 L828.2,623.6Z"/>
<text class="lab" x="837.1" y="655.2" textLength="64.8" lengthAdjust="spacingAndGlyphs">V005M6016ZB</text>
<path class="l" d="M831.4,650.4 L818.4,650.4 L773.8,613.0"/>
<path class="a" d="M773.8,613.0 L778.1,615.0 L776.5,616.9Z"/>
<text class="lab" x="787.6" y="679.1" textLength="35.1" lengthAdjust="spacingAndGlyphs">RFTR52</text>
<path class="l" d="M782.4,674.2 L768.1,674.2 L752.2,658.4"/>
<path class="a" d="M752.2,658.4 L756.3,660.8 L754.6,662.5Z"/>
<text class="lab" x="618.3" y="645.9" textLength="73.1" lengthAdjust="spacingAndGlyphs">V005M8025ZB(*)</text>
<path class="l" d="M614.5,641.4 L599.4,641.4 L579.3,625.5"/>
<path class="a" d="M579.3,625.5 L583.7,627.4 L582.1,629.3Z"/>
<text class="lab" x="713.1" y="731.5" textLength="56.1" lengthAdjust="spacingAndGlyphs">FTR1087NER</text>
<path class="l" d="M709.1,727.3 L696.0,727.3 L681.8,713.8"/>
<path class="a" d="M681.8,713.8 L686.0,716.1 L684.3,717.9Z"/>
<text class="lab" x="662.7" y="754.3" textLength="73.0" lengthAdjust="spacingAndGlyphs">V005M8025ZB(*)</text>
<path class="l" d="M658.6,750.0 L644.5,750.0 L628.4,733.4"/>
<path class="a" d="M628.4,733.4 L632.5,735.8 L630.7,737.6Z"/>
<text class="lab" x="216.7" y="307.2" textLength="34.6" lengthAdjust="spacingAndGlyphs">FTR960</text>
<path class="l" d="M254.7,302.3 L269.1,302.3 L282.1,314.7"/>
<path class="a" d="M282.1,314.7 L277.9,312.4 L279.6,310.6Z"/>
<text class="lab" x="205.8" y="435.3" textLength="64.2" lengthAdjust="spacingAndGlyphs">V005M5012ZB</text>
<path class="l" d="M273.4,430.4 L286.4,430.4 L299.3,442.8"/>
<path class="a" d="M299.3,442.8 L295.1,440.5 L296.8,438.7Z"/>
<text class="lab" x="243.2" y="502.1" textLength="64.2" lengthAdjust="spacingAndGlyphs">V005M5012ZB</text>
<path class="l" d="M310.9,497.2 L323.8,497.2 L332.5,506.7"/>
<path class="a" d="M332.5,506.7 L328.5,504.2 L330.3,502.5Z"/>
<text class="lab" x="164.9" y="581.4" textLength="63.8" lengthAdjust="spacingAndGlyphs">RFTR245SIL(**)</text>
<path class="l" d="M232.3,576.4 L247.2,576.4 L253.6,583.6"/>
<path class="a" d="M253.6,583.6 L249.6,581.0 L251.5,579.3Z"/>
<text class="lab" x="262.8" y="645.7" textLength="64.7" lengthAdjust="spacingAndGlyphs">RFTR249SIL(**)</text>
<path class="l" d="M330.4,640.7 L339.5,640.7 L346.7,648.4"/>
<path class="a" d="M346.7,648.4 L342.6,645.9 L344.5,644.2Z"/>
<text class="lab" x="317.9" y="566.5" textLength="64.3" lengthAdjust="spacingAndGlyphs">V023M5010ZB</text>
<path class="l" d="M385.0,561.6 L399.0,561.6 L410.9,572.4"/>
<path class="a" d="M410.9,572.4 L406.7,570.2 L408.3,568.4Z"/>
<text class="lab" x="343.4" y="600.1" textLength="46.6" lengthAdjust="spacingAndGlyphs">FTR704SIL</text>
<path class="l" d="M393.6,595.7 L407.7,595.7 L417.4,604.7"/>
<path class="a" d="M417.4,604.7 L413.2,602.5 L414.9,600.7Z"/>
<text class="lab" x="437.2" y="699.4" textLength="46.4" lengthAdjust="spacingAndGlyphs">FTR690(**)</text>
<path class="l" d="M433.6,694.9 L420.6,694.9 L407.7,683.5"/>
<path class="a" d="M407.7,683.5 L412.0,685.6 L410.3,687.5Z"/>
<!-- tables -->
<rect class="r" x="2.4" y="762.7" width="222.1" height="70.0"/>
<line class="r" x1="19.6" y1="762.7" x2="19.6" y2="832.7"/>
<line class="r" x1="19.6" y1="771.6" x2="224.5" y2="771.6"/>
<line class="r" x1="19.6" y1="780.6" x2="224.5" y2="780.6"/>
<line class="r" x1="19.6" y1="789.6" x2="224.5" y2="789.6"/>
<line class="r" x1="19.6" y1="798.4" x2="224.5" y2="798.4"/>
<line class="r" x1="19.6" y1="807.0" x2="224.5" y2="807.0"/>
<line class="r" x1="19.6" y1="815.7" x2="224.5" y2="815.7"/>
<text class="rt" xml:space="preserve" x="21.8" y="770.5" textLength="86.2" lengthAdjust="spacingAndGlyphs">(00) PARTE ORIGINALE</text>
<text class="rt" xml:space="preserve" x="21.8" y="779.3" textLength="167.9" lengthAdjust="spacingAndGlyphs">(*)   BLOCCARE CON FRENAFILETTI DEBOLE</text>
<text class="rt" xml:space="preserve" x="21.8" y="788.3" textLength="162.9" lengthAdjust="spacingAndGlyphs">(**)  BLOCCARE CON FRENAFILETTI MEDIO</text>
<text class="rt" xml:space="preserve" x="22.2" y="797.1" textLength="71.7" lengthAdjust="spacingAndGlyphs">CAMBIO NORMALE</text>
<text class="rt" xml:space="preserve" x="22.2" y="805.9" textLength="84.8" lengthAdjust="spacingAndGlyphs">CAMBIO ROVESCIATO</text>
<text class="rt" xml:space="preserve" x="22.2" y="814.9" textLength="199.2" lengthAdjust="spacingAndGlyphs">VERIFICARE SERRAGGIO VITI PRIMA DELL'UTILIZZO</text>
<text class="rt" font-size="9.4" x="21.8" y="829.3" textLength="197.2" lengthAdjust="spacingAndGlyphs">PRIMA DI ORDINARE VERIFICARE L'ULTIMA RELEASE SUL SITO</text>
<text class="rv" transform="translate(16.1,814.5) rotate(-90)" textLength="33.3" lengthAdjust="spacingAndGlyphs">ITALIA</text>
<rect class="r" x="238.5" y="762.7" width="223.2" height="70.0"/>
<line class="r" x1="255.6" y1="762.7" x2="255.6" y2="832.7"/>
<line class="r" x1="255.6" y1="771.6" x2="461.7" y2="771.6"/>
<line class="r" x1="255.6" y1="780.6" x2="461.7" y2="780.6"/>
<line class="r" x1="255.6" y1="789.6" x2="461.7" y2="789.6"/>
<line class="r" x1="255.6" y1="798.4" x2="461.7" y2="798.4"/>
<line class="r" x1="255.6" y1="807.0" x2="461.7" y2="807.0"/>
<line class="r" x1="255.6" y1="815.7" x2="461.7" y2="815.7"/>
<text class="rt" xml:space="preserve" x="257.9" y="770.5" textLength="55.3" lengthAdjust="spacingAndGlyphs">(00) OEM PART</text>
<text class="rt" xml:space="preserve" x="257.9" y="779.3" textLength="182.0" lengthAdjust="spacingAndGlyphs">(*)   LOCKING WITH LOW STRENGHT THREAD LOCKER</text>
<text class="rt" xml:space="preserve" x="257.9" y="788.3" textLength="195.1" lengthAdjust="spacingAndGlyphs">(**)  LOCKING WITH MEDIUM STRENGHT THREAD LOCKER</text>
<text class="rt" xml:space="preserve" x="258.3" y="797.1" textLength="58.5" lengthAdjust="spacingAndGlyphs">NORMAL MODE</text>
<text class="rt" xml:space="preserve" x="258.3" y="805.9" textLength="62.5" lengthAdjust="spacingAndGlyphs">REVERSE MODE</text>
<text class="rt" xml:space="preserve" x="258.3" y="814.9" textLength="189.7" lengthAdjust="spacingAndGlyphs">CONTROL THE THIGTHTENING'S SCREW BEFORE USING</text>
<text class="rt" font-size="9.4" x="257.3" y="829.3" textLength="192.3" lengthAdjust="spacingAndGlyphs">BEFORE ORDER CHECKING THE LATEST RELEASE ON WEBSITE</text>
<text class="rv" transform="translate(252.6,824.6) rotate(-90)" textLength="51.8" lengthAdjust="spacingAndGlyphs">ENGLAND</text>
<rect class="r" x="476.1" y="762.7" width="206.5" height="70.0"/>
<line class="r" x1="493.3" y1="762.7" x2="493.3" y2="832.7"/>
<line class="r" x1="493.3" y1="771.6" x2="682.6" y2="771.6"/>
<line class="r" x1="493.3" y1="780.6" x2="682.6" y2="780.6"/>
<line class="r" x1="493.3" y1="789.6" x2="682.6" y2="789.6"/>
<line class="r" x1="493.3" y1="798.4" x2="682.6" y2="798.4"/>
<line class="r" x1="493.3" y1="807.0" x2="682.6" y2="807.0"/>
<line class="r" x1="493.3" y1="815.7" x2="682.6" y2="815.7"/>
<text class="rt" xml:space="preserve" x="495.3" y="770.5" textLength="74.7" lengthAdjust="spacingAndGlyphs">(00) PIECE ORIGINE</text>
<text class="rt" xml:space="preserve" x="495.3" y="779.3" textLength="155.4" lengthAdjust="spacingAndGlyphs">(*)    BLOCAGE AVEC FREIN FILET FAIBLE</text>
<text class="rt" xml:space="preserve" x="495.3" y="788.3" textLength="169.5" lengthAdjust="spacingAndGlyphs">(**)   BLOCAGE AVEC FREIN FILET MOYENNE</text>
<text class="rt" xml:space="preserve" x="495.7" y="797.1" textLength="115.6" lengthAdjust="spacingAndGlyphs">MONTAGE VITESSE NORMALE</text>
<text class="rt" xml:space="preserve" x="495.7" y="805.9" textLength="117.1" lengthAdjust="spacingAndGlyphs">MONTAGE VITESSE INVERSEE</text>
<text class="rt" xml:space="preserve" x="495.7" y="814.9" textLength="156.0" lengthAdjust="spacingAndGlyphs">VERIFIER SERRAGE AVANT UTILISATION</text>
<text class="rt" font-size="9.4" x="495.7" y="825.2" textLength="176.2" lengthAdjust="spacingAndGlyphs">AVANT DE ORDONNER ON DOIT VÉRIFIER LA</text>
<text class="rt" font-size="9.4" x="495.7" y="832.8" textLength="171.8" lengthAdjust="spacingAndGlyphs">DERNIÈRE RELEASE SUR LE SITE INTERNET</text>
<text class="rv" transform="translate(490.2,822.6) rotate(-90)" textLength="43.4" lengthAdjust="spacingAndGlyphs">FRANCE</text>
<rect class="r" x="696.5" y="762.7" width="267.2" height="70.0"/>
<line class="r" x1="713.8" y1="762.7" x2="713.8" y2="832.7"/>
<line class="r" x1="713.8" y1="771.6" x2="963.7" y2="771.6"/>
<line class="r" x1="713.8" y1="780.6" x2="963.7" y2="780.6"/>
<line class="r" x1="713.8" y1="789.6" x2="963.7" y2="789.6"/>
<line class="r" x1="713.8" y1="798.4" x2="963.7" y2="798.4"/>
<line class="r" x1="713.8" y1="807.0" x2="963.7" y2="807.0"/>
<line class="r" x1="713.8" y1="815.7" x2="963.7" y2="815.7"/>
<text class="rt" xml:space="preserve" x="716.2" y="770.5" textLength="64.2" lengthAdjust="spacingAndGlyphs">(00) ORIGINAL TEIL</text>
<text class="rt" xml:space="preserve" x="716.2" y="779.3" textLength="217.3" lengthAdjust="spacingAndGlyphs">(*)    BEFESTIGEN MIT SWACH SCHRAUBEN SICHERUNGSMITTEL</text>
<text class="rt" xml:space="preserve" x="716.2" y="788.3" textLength="231.2" lengthAdjust="spacingAndGlyphs">(**)   BEFESTIGEN MIT MITTLEREN SCHRAUBEN SICHERUNGSMITTEL</text>
<text class="rt" xml:space="preserve" x="716.6" y="797.1" textLength="119.1" lengthAdjust="spacingAndGlyphs">EINBAU MIT NORMALE SCHALTUNG</text>
<text class="rt" xml:space="preserve" x="716.6" y="805.9" textLength="126.8" lengthAdjust="spacingAndGlyphs">EINBAU MIT GEKIPPTE SCHALTHEBEL</text>
<text class="rt" xml:space="preserve" x="716.6" y="814.9" textLength="151.0" lengthAdjust="spacingAndGlyphs">VOR DEN GEBRAUCH SCHRAUBEN PRÜFEN</text>
<text class="rt" font-size="9.4" x="716.6" y="825.2" textLength="242.5" lengthAdjust="spacingAndGlyphs">VOR DER BESTELLUNG ÜBERPRÜFEN SIE BITTE DIE LETZTE VERSION</text>
<text class="rt" font-size="9.4" x="716.6" y="832.8" textLength="199.2" lengthAdjust="spacingAndGlyphs">DIESER ARTIKEL AUF DER INTERNET SEITE VON LIGHTECH</text>
<text class="rv" transform="translate(711.2,831.7) rotate(-90)" textLength="67.6" lengthAdjust="spacingAndGlyphs">DEUTSCHLAND</text>
<rect class="r" x="977.3" y="762.7" width="209.5" height="70.0"/>
<line class="r" x1="994.3" y1="762.7" x2="994.3" y2="832.7"/>
<line class="r" x1="994.3" y1="771.6" x2="1186.8" y2="771.6"/>
<line class="r" x1="994.3" y1="780.6" x2="1186.8" y2="780.6"/>
<line class="r" x1="994.3" y1="789.6" x2="1186.8" y2="789.6"/>
<line class="r" x1="994.3" y1="798.4" x2="1186.8" y2="798.4"/>
<line class="r" x1="994.3" y1="807.0" x2="1186.8" y2="807.0"/>
<line class="r" x1="994.3" y1="815.7" x2="1186.8" y2="815.7"/>
<text class="rt" xml:space="preserve" x="996.7" y="770.5" textLength="77.8" lengthAdjust="spacingAndGlyphs">(00) PIEZA ORIGINAL</text>
<text class="rt" xml:space="preserve" x="996.7" y="779.3" textLength="135.4" lengthAdjust="spacingAndGlyphs">(*)    SELLAR CON SELLADOR DEBIL</text>
<text class="rt" xml:space="preserve" x="996.7" y="788.3" textLength="139.1" lengthAdjust="spacingAndGlyphs">(**)   SELLAR CON SELLADOR MEDIO</text>
<text class="rt" xml:space="preserve" x="997.7" y="797.1" textLength="108.9" lengthAdjust="spacingAndGlyphs">MONTAJE  CAMBIO NORMAL</text>
<text class="rt" xml:space="preserve" x="997.7" y="805.9" textLength="108.4" lengthAdjust="spacingAndGlyphs">MONTAJE CAMBIO INVERSO</text>
<text class="rt" xml:space="preserve" x="997.7" y="814.9" textLength="178.7" lengthAdjust="spacingAndGlyphs">VERIFICAR EL APRIETE ANTES DE UTILIZARLO</text>
<text class="rt" font-size="9.4" x="997.7" y="824.4" textLength="171.6" lengthAdjust="spacingAndGlyphs">ANTES DE HACER EL PEDIDO, VERIFICAR LA</text>
<text class="rt" font-size="9.4" x="997.7" y="832.3" textLength="152.7" lengthAdjust="spacingAndGlyphs">ULTIMA VERSION EN LA WEB LIGHTECH</text>
<text class="rv" transform="translate(992.4,821.1) rotate(-90)" textLength="45.4" lengthAdjust="spacingAndGlyphs">ESPAÑA</text>
</svg>
</body></html>
